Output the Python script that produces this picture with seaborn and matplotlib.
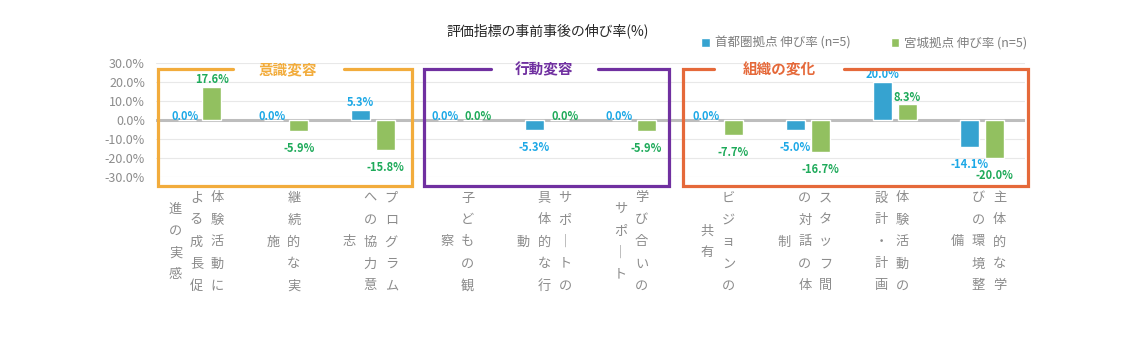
import pandas as pd
import matplotlib.pyplot as plt
from matplotlib.ticker import PercentFormatter
import seaborn as sns

# chart data
categories = ["体験活動による成長促進の実感", "継続的な実施", "プログラムへの協力意志",
              "子どもの観察", "サポートの具体的な行動", "学び合いのサポート",
              "ビジョンの共有", "スタッフ間の対話の体制", "体験活動の設計・計画",
              "主体的な学びの環境整備"]
series_names = ["首都圏拠点 伸び率 (n=5)", "宮城拠点 伸び率 (n=5)"]
tokyo = [0.0, 0.0, 5.3, 0.0, -5.3, 0.0, 0.0, -5.0, 20.0, -14.1]
miyagi = [17.6, -5.9, -15.8, 0.0, 0.0, -5.9, -7.7, -16.7, 8.3, -20.0]
yticks = [-30, -20, -10, 0, 10, 20, 30]

# groups: title, first/last category, left/right padding, title x, half gap in top line, colour
groups = [("意識変容", 0, 2, 0.48, 0.45, 1.02, 0.64, "#F2AC3C"),
          ("行動変容", 3, 5, 0.42, 0.40, 3.97, 0.62, "#7030A0"),
          ("組織の変化", 6, 9, 0.44, 0.53, 6.67, 0.75, "#E5693A")]

bar_colors = ["#1CAEEA", "#92D050"]
label_colors = ["#1CA8E6", "#1EAA5A"]

df = pd.DataFrame({
    "cat": categories * 2,
    "series": [series_names[0]] * 10 + [series_names[1]] * 10,
    "value": tokyo + miyagi,
})

sns.set_style("white")
plt.rcParams['font.family'] = ['Noto Sans CJK JP', 'DejaVu Sans']
plt.rcParams['axes.unicode_minus'] = False

fig, ax = plt.subplots(figsize=(11.44, 3.53), dpi=100)
fig.subplots_adjust(left=0.1364, right=0.896, top=0.8215, bottom=0.4986)

sns.barplot(data=df, x="cat", y="value", hue="series", order=categories,
            hue_order=series_names, palette=bar_colors, width=0.575, gap=0.24,
            ax=ax, zorder=3, legend=True)

ax.set_ylim(-30, 30)
ax.set_xlim(-0.5, 9.5)
ax.set_yticks(yticks)
ax.yaxis.set_major_formatter(PercentFormatter(xmax=100, decimals=1))
ax.tick_params(axis='y', length=0, pad=8, labelsize=9, labelcolor="#8C8C8C")
ax.set_xticks(range(10))
ax.set_xticklabels([])
ax.tick_params(axis='x', length=0)
ax.set_xlabel("")
ax.set_ylabel("")
for s in ax.spines.values():
    s.set_visible(False)
ax.grid(axis='y', color="#E8E8E8", lw=0.8, zorder=0)
ax.axhline(0, color="#BDBDBD", lw=2.2, zorder=2)

# value labels
for k, cont in enumerate(ax.containers):
    for p in cont:
        v = p.get_height()
        x = p.get_x() + p.get_width() / 2
        dx = 0
        if v > 0:
            off, va = 0.5, 'bottom'
        elif v < 0:
            off, va = -8, 'top'
        else:
            off, va = -2, 'bottom'
            dx = -1.5 if k == 0 else 4
        ax.annotate(f"{v:.1f}%", xy=(x, v), xytext=(dx, off),
                    textcoords='offset points', ha='center', va=va,
                    fontsize=8, fontweight='bold', color=label_colors[k])

# vertical category labels (columns right to left)
xt = ax.get_xaxis_transform()
for i, lab in enumerate(categories):
    cols = [lab[j:j + 5] for j in range(0, len(lab), 5)]
    n = len(cols)
    for c, col in enumerate(cols):
        dx = ((n - 1) / 2 - c) * 21 - 3
        for r, ch in enumerate(col):
            if ch == "ー":
                ch = "｜"
            dy = -(65 + (r - (len(col) - 1) / 2) * 22)
            ax.annotate(ch, xy=(i, 0), xycoords=xt, xytext=(dx * 0.72, dy * 0.72),
                        textcoords='offset points', ha='center', va='center',
                        fontsize=9.5, color="#8C8C8C", annotation_clip=False)

# group boxes with a gap in the top line for the title
top, bottom = 26.8, -34.7
for title, a, b, lp, rp, tx, g, col in groups:
    x0, x1 = a - lp, b + rp
    ax.plot([tx - g, x0, x0, x1, x1, tx + g], [top, top, bottom, bottom, top, top],
            color=col, lw=2.3, clip_on=False, zorder=4, solid_joinstyle='miter')
    ax.text(tx, top, title, ha='center', va='center', fontsize=10.5,
            fontweight='bold', color=col, zorder=5)

# legend
handles, lbls = ax.get_legend_handles_labels()
ax.legend_.remove()
fig.legend(handles, lbls, loc='center left', bbox_to_anchor=(690 / 1144, 1 - 43 / 353),
           ncol=2, frameon=False, fontsize=9, labelcolor="#7F7F7F",
           handlelength=0.7, handleheight=0.7, handletextpad=0.4, columnspacing=3.2)

fig.text(548 / 1144, 1 - 31 / 353, "評価指標の事前事後の伸び率(%)", ha='center', va='center',
         fontsize=10, color="#262626")

plt.savefig("out.png", dpi=100)
